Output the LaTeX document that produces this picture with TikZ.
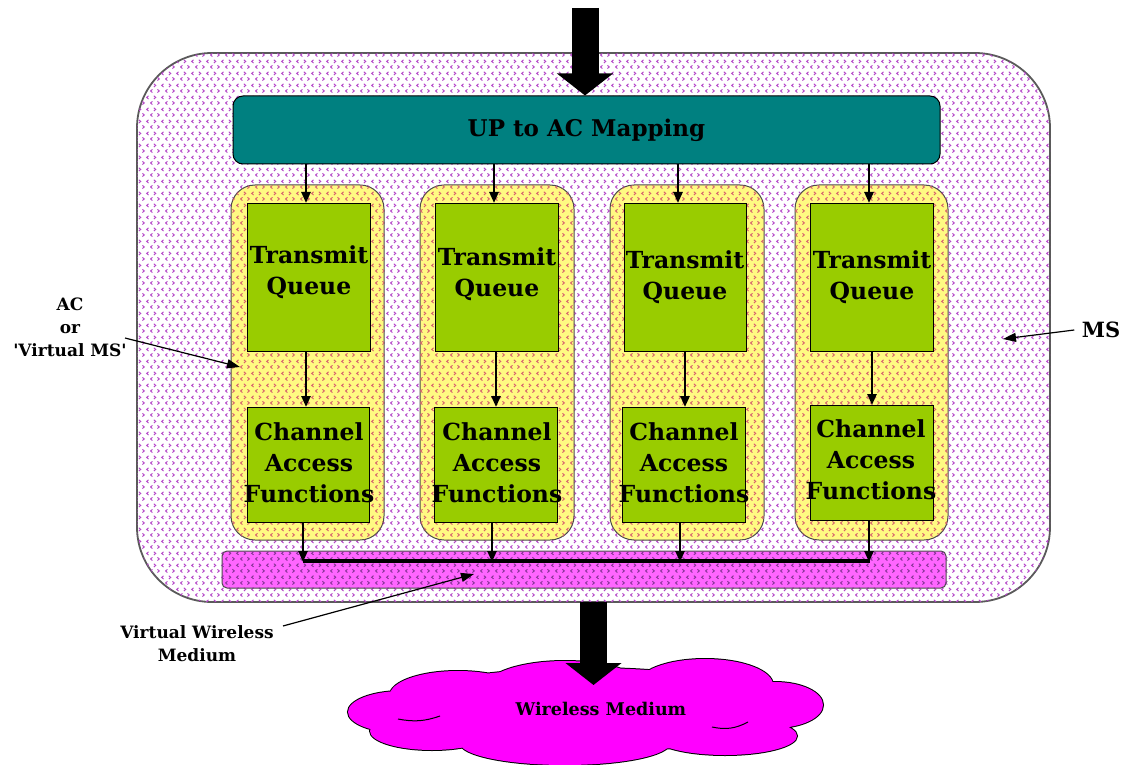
\documentclass[tikz,border=0pt]{standalone}
\usepackage{fontspec}
\setmainfont{DejaVu Serif}
\usetikzlibrary{patterns.meta,arrows.meta}

% small "<" / ">" texture used on the station areas
\tikzdeclarepattern{
  name=chevrons,
  type=uncolored,
  bounding box={(0pt,0pt) and (15pt,12pt)},
  tile size={(15pt,12pt)},
  code={
    \tikzset{line width=0.75pt}
    \draw (2.6pt,0.5pt) -- (0.6pt,2.2pt) -- (2.6pt,3.9pt);
    \draw (7.9pt,0.5pt) -- (9.9pt,2.2pt) -- (7.9pt,3.9pt);
    \draw (4.1pt,6.5pt) -- (6.1pt,8.2pt) -- (4.1pt,9.9pt);
    \draw (14.4pt,6.5pt) -- (12.4pt,8.2pt) -- (14.4pt,9.9pt);
  }
}

\definecolor{teal}{RGB}{0,128,128}
\definecolor{qgreen}{RGB}{153,204,0}
\definecolor{acyellow}{RGB}{255,250,130}
\definecolor{vwm}{RGB}{255,102,255}
\definecolor{wm}{RGB}{255,0,255}
\definecolor{dots}{RGB}{180,70,200}
\definecolor{msborder}{RGB}{90,90,90}

\tikzset{
  msbox/.style={draw=msborder, line width=1.8pt, rounded corners=75pt,
    fill=white, postaction={pattern={chevrons}, pattern color=dots}},
  mapbox/.style={draw=black, line width=1pt, fill=teal, rounded corners=10pt},
  acbox/.style={draw=black!70, line width=1pt, fill=acyellow, rounded corners=24pt,
    postaction={pattern={chevrons}, pattern color=dots!55!orange}},
  qbox/.style={draw=black, line width=1.2pt, fill=qgreen},
  qtext/.style={align=center, font=\bfseries\fontsize{23.5}{31}\selectfont},
  busbox/.style={draw=black!70, line width=1pt, fill=vwm, rounded corners=5pt,
    postaction={pattern={chevrons}, pattern color=dots!75!black}},
  flow/.style={line width=2.4pt, -{Triangle[length=11pt,width=9pt]}},
  bigflow/.style={line width=27pt, -{Triangle[length=22pt,width=55pt]}},
  note/.style={align=center, font=\bfseries\fontsize{17}{23}\selectfont},
  pointer/.style={line width=1.2pt, -{Triangle[length=13pt,width=9pt]}},
  puff/.style={line width=2pt},
}

\begin{document}
\begin{tikzpicture}[x=1pt,y=-1pt]
  \useasboundingbox (0,0) rectangle (1125,765);

  % mobile station
  \path[msbox] (137,53) rectangle (1050,602);
  \coordinate (msright) at (1003,339);

  % UP to AC mapping
  \node[mapbox, minimum width=707pt, minimum height=68pt,
        font=\bfseries\fontsize{23}{26}\selectfont] (map) at (586.5,130)
        {UP to AC Mapping};

  % access categories
  \foreach \i/\xl/\xr in {1/231/384, 2/420/574, 3/610/764, 4/795/948}{
    \path[acbox] (\xl,185) rectangle (\xr,540);
  }
  \coordinate (acleft) at (240,367);

  % transmit queues
  \node[qbox, minimum width=123pt, minimum height=148pt, anchor=north west] (tq1) at (247,203) {};
  \node[qbox, minimum width=123pt, minimum height=148pt, anchor=north west] (tq2) at (435,203) {};
  \node[qbox, minimum width=122pt, minimum height=148pt, anchor=north west] (tq3) at (624,203) {};
  \node[qbox, minimum width=123pt, minimum height=148pt, anchor=north west] (tq4) at (810,203) {};
  \node[qtext] (tq1t) at (309,272) {Transmit\\Queue};
  \node[qtext] (tq2t) at (497,274) {Transmit\\Queue};
  \node[qtext] (tq3t) at (685,277) {Transmit\\Queue};
  \node[qtext] (tq4t) at (872,277) {Transmit\\Queue};

  % channel access functions
  \node[qbox, minimum width=122pt, minimum height=115pt, anchor=north west] (ca1) at (247,407) {};
  \node[qbox, minimum width=123pt, minimum height=115pt, anchor=north west] (ca2) at (434,407) {};
  \node[qbox, minimum width=123pt, minimum height=115pt, anchor=north west] (ca3) at (622,407) {};
  \node[qbox, minimum width=123pt, minimum height=115pt, anchor=north west] (ca4) at (810,405) {};
  \node[qtext] (ca1t) at (309,463) {Channel\\Access\\Functions};
  \node[qtext] (ca2t) at (497,463) {Channel\\Access\\Functions};
  \node[qtext] (ca3t) at (684,463) {Channel\\Access\\Functions};
  \node[qtext] (ca4t) at (871,460) {Channel\\Access\\Functions};

  % virtual wireless medium
  \path[busbox] (222,551) rectangle (946,588);
  \coordinate (vwmin) at (474,574);
  \coordinate (busL) at (303,561);
  \coordinate (busR) at (870,561);
  \draw[line width=3.5pt] (busL) -- (busR);

  % mapping -> queues
  \draw[flow] (map.south -| 306,0) -- (tq1.north -| 306,0);
  \draw[flow] (map.south -| 494,0) -- (tq2.north -| 494,0);
  \draw[flow] (map.south -| 678,0) -- (tq3.north -| 678,0);
  \draw[flow] (map.south -| 869,0) -- (tq4.north -| 869,0);

  % queues -> channel access
  \draw[flow] (tq1.south -| 306,0) -- (ca1.north -| 306,0);
  \draw[flow] (tq2.south -| 496,0) -- (ca2.north -| 496,0);
  \draw[flow] (tq3.south -| 685,0) -- (ca3.north -| 685,0);
  \draw[flow] (tq4.south -| 872,0) -- (ca4.north -| 872,0);

  % channel access -> virtual medium
  \draw[flow] (ca1.south -| 303,0) -- (busL |- 0,562);
  \draw[flow] (ca2.south -| 492,0) -- (492,562);
  \draw[flow] (ca3.south -| 680,0) -- (680,562);
  \draw[flow] (ca4.south -| 869,0) -- (869,562);

  % wireless medium: outlined puffs, then the same puffs filled on top
  \def\cloudpuffs{
    (587,710) ellipse [x radius=200, y radius=42]
    (402,712) ellipse [x radius=54, y radius=21]
    (458,695) ellipse [x radius=68, y radius=24]
    (565,688) ellipse [x radius=80, y radius=27]
    (705,685) ellipse [x radius=68, y radius=26]
    (775,705) ellipse [x radius=48, y radius=23]
    (432,731) ellipse [x radius=62, y radius=19]
    (565,743) ellipse [x radius=105, y radius=22]
    (725,736) ellipse [x radius=72, y radius=19]
  }
  \draw[puff, draw=black] \cloudpuffs;
  \fill[wm] \cloudpuffs;
  \draw[line width=1pt] (712,727) to[bend right=20] (748,722);
  \draw[line width=1pt] (440,716) to[bend left=15] (398,719);
  \node[font=\bfseries\fontsize{17.5}{20}\selectfont] (cloud) at (601,709) {Wireless Medium};

  % traffic in and out
  \coordinate (in) at (585,8);
  \draw[bigflow] (in) -- (map.north -| in);
  \coordinate (outtop) at (593.5,602);
  \coordinate (outtip) at (593.5,685);
  \draw[bigflow] (outtop) -- (outtip);

  % annotations
  \node[note] (aclabel) at (70,327) {AC\\or\\\textquotesingle Virtual MS\textquotesingle};
  \draw[pointer] (125,338) -- (acleft);
  \node[note, font=\bfseries\fontsize{21}{24}\selectfont] (mslabel) at (1101,330) {MS};
  \draw[pointer] (mslabel.west) ++(-4,0) -- (msright);
  \node[note] (vwmlabel) at (197,644) {Virtual Wireless\\Medium};
  \draw[pointer] (283,626) -- (vwmin);
\end{tikzpicture}
\end{document}
